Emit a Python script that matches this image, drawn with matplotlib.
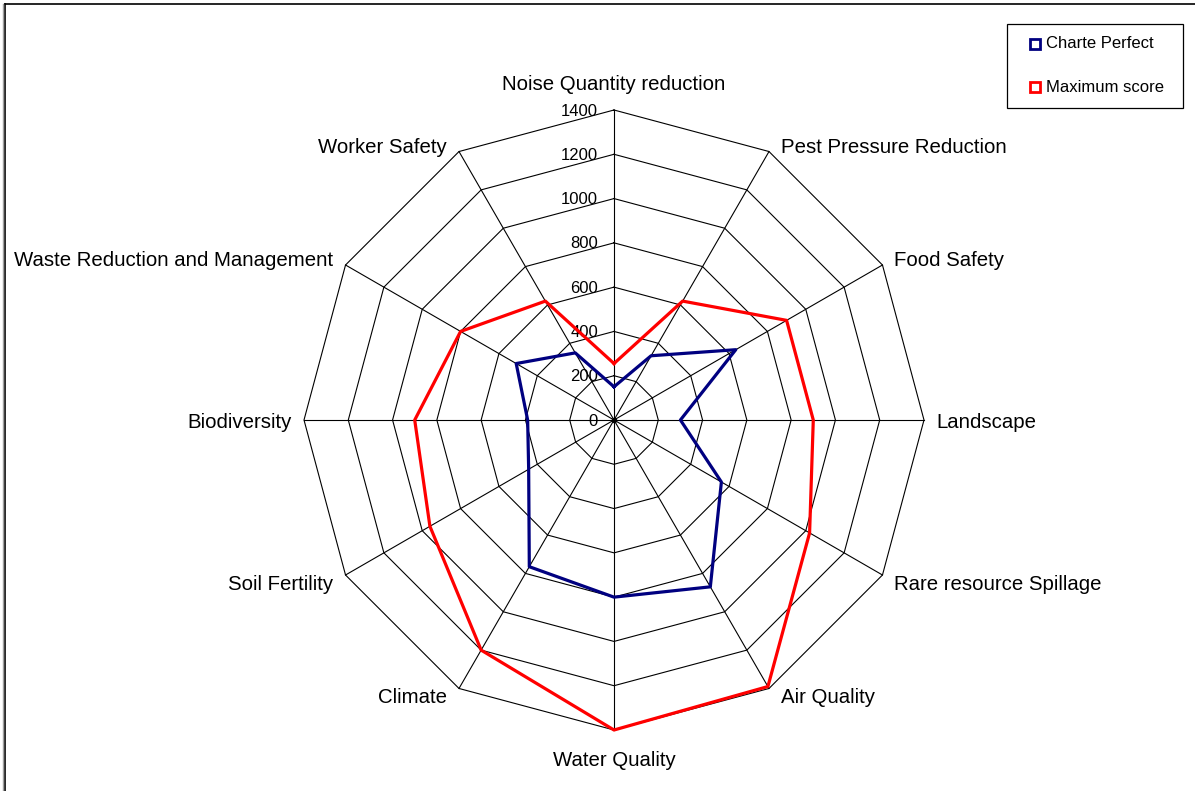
import numpy as np
import matplotlib
matplotlib.use("Agg")
import matplotlib.pyplot as plt
from matplotlib.lines import Line2D
from matplotlib.patches import Rectangle

plt.rcParams['font.family'] = ['Liberation Sans', 'DejaVu Sans']

categories = ["Noise Quantity reduction", "Pest Pressure Reduction", "Food Safety",
              "Landscape", "Rare resource Spillage", "Air Quality", "Water Quality",
              "Climate", "Soil Fertility", "Biodiversity",
              "Waste Reduction and Management", "Worker Safety"]
charte_perfect = [150, 335, 635, 300, 560, 870, 800, 765, 445, 390, 510, 350]
maximum_score = [255, 620, 900, 900, 1020, 1390, 1400, 1200, 960, 900, 800, 620]
ticks = [0, 200, 400, 600, 800, 1000, 1200, 1400]
rmax = 1400

W, H = 1195, 791
cx, cy = 614, 420          # centre in pixels from top-left
scale = rmax / 310.0       # data units per pixel

fig = plt.figure(figsize=(W / 100, H / 100), dpi=100)
ax = fig.add_axes([0, 0, 1, 1])
ax.set_xlim(-cx * scale, (W - cx) * scale)
ax.set_ylim(-(H - cy) * scale, cy * scale)
ax.axis('off')

n = len(categories)
theta = np.arange(n) * 2 * np.pi / n   # clockwise from top


def xy(vals):
    vals = np.asarray(vals, dtype=float)
    x = vals * np.sin(theta)
    y = vals * np.cos(theta)
    return np.append(x, x[0]), np.append(y, y[0])


# polygon grid and spokes
for t in ticks[1:]:
    gx, gy = xy([t] * n)
    ax.plot(gx, gy, color='black', lw=0.8, zorder=1)
for th in theta:
    ax.plot([0, rmax * np.sin(th)], [0, rmax * np.cos(th)], color='black', lw=0.8, zorder=1)
ax.plot(0, 0, 'o', color='black', ms=3, zorder=1)

# value labels along the top spoke
for t in ticks:
    ax.text(-16 * scale, t - 1 * scale, str(t), ha='right', va='center', fontsize=12, zorder=3)

# data series
bx, by = xy(charte_perfect)
ax.plot(bx, by, color='#000080', lw=2.3, zorder=4)
rx, ry = xy(maximum_score)
ax.plot(rx, ry, color='#ff0000', lw=2.3, zorder=5)

# category labels
for name, th in zip(categories, theta):
    s, c = np.sin(th), np.cos(th)
    x = rmax * s
    y = rmax * c - 2.5 * scale
    if abs(s) < 1e-6:
        ha = 'center'
        y += np.sign(c) * 28 * scale
    else:
        ha = 'left' if s > 0 else 'right'
        x += np.sign(s) * 12 * scale
        y += 7 * scale * np.sign(c) if abs(c) > 1e-6 else 0
    ax.text(x, y, name, ha=ha, va='center', fontsize=14.7, zorder=3)

# legend box
fig.patches.append(Rectangle((1007 / W, 1 - 108 / H), 176 / W, 84 / H,
                             transform=fig.transFigure, fill=False,
                             edgecolor='black', lw=0.9))
for label, col, py in [("Charte Perfect", '#000080', 44), ("Maximum score", '#ff0000', 87)]:
    fig.add_artist(Line2D([1035 / W], [1 - py / H], marker='s', ms=6.5,
                          mfc='none', mec=col, mew=2, transform=fig.transFigure))
    fig.text(1046 / W, 1 - py / H, label, ha='left', va='center', fontsize=12)

# outer frame (top and left)
fig.add_artist(Line2D([5 / W, 1], [1 - 3.5 / H, 1 - 3.5 / H], color='black', lw=1.2,
                      transform=fig.transFigure))
fig.add_artist(Line2D([5 / W, 5 / W], [0, 1 - 3.5 / H], color='black', lw=1.2,
                      transform=fig.transFigure))
fig.add_artist(Line2D([3 / W, 3 / W], [0, 1 - 3.5 / H], color='#a0a0a0', lw=1,
                      transform=fig.transFigure))

fig.savefig('out.png', dpi=100)
